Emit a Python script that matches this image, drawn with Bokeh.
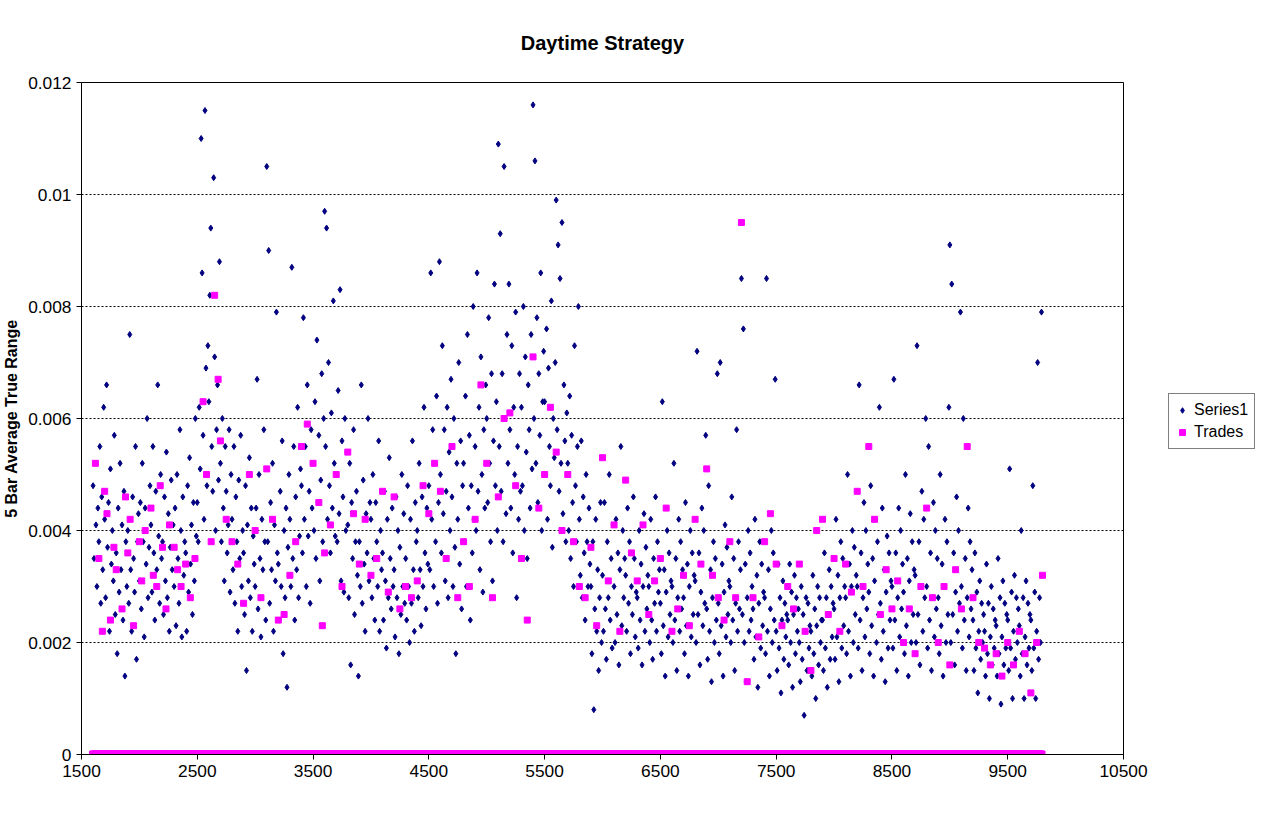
from bokeh.plotting import figure
from bokeh.models import ColumnDataSource, FixedTicker, CustomJSTickFormatter, Legend, LegendItem, Range1d
from bokeh.embed import file_html
from bokeh.resources import INLINE

# Series1 values (units of 1e-4), 12 bars per block of 100, block start keys
block_starts = list(range(1600, 9800, 100))
series1_blocks = [
    [48,35,52,41,30,44,38,55,27,46,33,62],
    [42,28,66,37,45,22,51,34,40,31,57,25],
    [36,18,44,29,52,33,41,24,47,14,38,30],
    [40,27,75,33,22,46,35,29,55,17,38,43],
    [31,45,26,52,38,21,44,34,60,28,37,48],
    [41,29,55,36,24,47,33,66,39,27,50,35],
    [38,25,46,31,54,28,43,22,37,49,33,41],
    [30,44,23,50,35,27,58,40,21,46,32,38],
    [36,22,48,29,53,34,41,25,45,31,60,39],
    [45,38,62,51,110,86,57,42,115,69,48,73],
    [63,82,94,55,47,103,71,40,58,66,49,88],
    [52,38,60,44,31,55,47,36,41,58,29,50],
    [42,33,55,27,46,38,22,49,35,57,30,40],
    [36,25,48,15,41,31,53,28,44,22,39,34],
    [30,44,67,26,50,35,21,42,33,58,38,24],
    [105,38,90,27,45,33,52,22,41,31,79,36],
    [34,24,47,30,56,18,40,28,44,12,37,50],
    [42,30,87,35,55,24,46,33,62,28,39,51],
    [48,36,78,42,55,30,66,39,47,27,58,44],
    [52,40,63,35,74,45,57,31,49,68,38,60],
    [97,55,94,42,70,48,36,61,44,81,52,39],
    [50,38,65,43,83,31,56,46,29,60,40,54],
    [41,28,52,16,45,35,58,25,38,47,32,14],
    [38,30,66,27,49,34,22,43,36,60,31,45],
    [42,28,50,35,24,45,38,30,56,22,40,33],
    [36,24,47,31,19,42,28,53,35,26,44,30],
    [33,21,46,28,40,18,37,25,50,30,43,27],
    [35,24,48,30,20,42,27,56,33,22,45,38],
    [40,28,52,33,23,46,30,62,36,26,44,34],
    [48,33,86,42,58,30,52,38,64,27,45,88],
    [50,36,73,43,58,31,47,62,28,54,40,67],
    [46,30,60,37,18,52,42,70,34,56,26,48],
    [52,38,64,30,75,44,57,24,48,36,80,42],
    [55,40,86,47,62,33,71,50,29,58,44,66],
    [60,45,78,52,38,68,31,56,84,48,63,40],
    [109,55,93,47,68,38,105,60,43,75,52,84],
    [58,44,73,36,62,50,79,28,55,42,68,47],
    [62,48,80,40,71,54,35,66,58,44,75,51],
    [116,60,106,52,78,45,68,57,86,40,63,72],
    [63,50,76,42,69,55,48,81,37,60,53,70],
    [99,58,91,47,85,52,95,43,66,56,38,61],
    [52,40,64,35,57,45,30,73,48,38,55,80],
    [42,32,56,28,46,36,24,50,38,30,44,34],
    [30,18,38,8,26,42,22,33,15,28,45,20],
    [32,22,45,26,17,38,28,50,24,35,19,41],
    [30,20,42,25,36,16,33,55,23,40,28,35],
    [32,22,44,27,38,18,30,25,46,35,21,29],
    [28,19,40,24,34,16,30,43,22,37,26,32],
    [30,20,42,24,17,35,27,46,22,38,29,33],
    [27,18,63,23,33,14,29,40,21,36,25,31],
    [30,20,52,24,35,15,28,42,22,38,26,33],
    [28,18,45,23,34,14,30,40,21,36,25,32],
    [31,20,72,25,36,16,29,44,23,40,27,57],
    [26,17,48,22,33,13,28,38,20,35,24,68],
    [27,18,70,23,34,14,29,41,21,37,25,31],
    [30,20,46,24,35,15,27,58,22,38,26,33],
    [85,25,76,20,34,13,28,40,22,36,24,30],
    [26,17,42,21,32,12,27,38,19,34,23,29],
    [28,18,85,22,33,14,26,40,20,36,24,67],
    [22,15,34,19,28,11,24,31,17,27,21,25],
    [24,16,34,20,29,12,25,32,18,28,22,26],
    [20,13,30,17,25,7,22,28,15,27,19,23],
    [22,14,32,18,26,10,23,30,16,28,20,24],
    [24,15,36,19,28,12,25,33,17,30,21,27],
    [26,17,42,21,32,13,28,38,19,35,23,30],
    [28,18,50,22,34,14,30,40,20,37,25,32],
    [30,19,66,24,36,15,28,45,21,40,26,34],
    [29,18,48,23,35,14,31,42,20,38,25,62],
    [27,17,44,22,33,13,29,39,19,36,24,31],
    [30,19,67,24,36,15,28,44,21,40,26,34],
    [29,18,50,23,35,14,31,43,20,38,25,33],
    [32,20,73,25,38,16,30,47,22,42,28,60],
    [30,19,55,24,36,15,28,45,21,40,26,35],
    [28,18,50,23,34,14,30,42,20,38,25,62],
    [91,20,84,25,36,16,29,46,22,40,27,79],
    [30,19,60,24,35,15,28,44,21,38,26,33],
    [24,15,36,19,29,11,22,31,17,27,20,25],
    [22,14,34,18,27,10,21,30,16,26,19,24],
    [23,14,35,18,28,9,21,31,16,27,19,25],
    [24,15,51,19,29,10,22,32,17,28,20,26],
    [23,14,40,18,28,10,21,31,16,27,19,25],
    [24,15,48,19,29,10,22,70,17,28,20,79],
]

trade_x = [1620,1650,1680,1700,1720,1750,1780,1800,1850,1880,1900,1920,1950,2000,2020,2050,2100,2120,2150,2180,
           2200,2230,2260,2300,2330,2360,2400,2440,2480,2550,2580,2620,2650,2680,2700,2750,2800,2850,2900,2950,
           3000,3050,3100,3150,3200,3250,3300,3350,3400,3450,3500,3550,3580,3600,3650,3700,3750,3800,3850,3900,
           3950,4000,4050,4100,4150,4200,4250,4300,4350,4400,4450,4500,4550,4600,4650,4700,4750,4800,4850,4900,
           4950,5000,5050,5100,5150,5200,5250,5300,5350,5400,5450,5500,5550,5600,5650,5700,5750,5800,5850,5900,
           5950,6000,6050,6100,6150,6200,6250,6300,6350,6400,6450,6500,6550,6600,6650,6700,6750,6800,6850,6900,
           6950,7000,7050,7100,7150,7200,7250,7300,7350,7400,7450,7500,7550,7600,7650,7700,7750,7800,7850,7900,
           7950,8000,8050,8100,8150,8200,8250,8300,8350,8400,8450,8500,8550,8600,8650,8700,8750,8800,8850,8900,
           8950,9000,9050,9100,9150,9200,9250,9300,9350,9400,9450,9500,9550,9600,9650,9700,9750,9800]
trade_y = [52,35,22,47,43,24,37,33,26,46,36,42,23,38,31,40,44,32,30,48,
           37,26,41,37,33,30,34,28,35,63,50,38,82,67,56,42,38,34,27,50,
           40,28,51,42,24,25,32,38,55,59,52,45,23,36,41,50,30,54,43,34,
           42,32,35,47,29,46,26,30,28,31,48,43,52,47,35,55,28,38,30,42,
           66,52,28,46,60,61,48,35,24,71,44,50,62,54,40,50,38,30,28,37,
           23,53,31,41,22,49,36,31,41,25,31,35,44,22,26,32,23,42,34,51,
           32,28,24,38,28,95,13,28,21,38,43,34,23,30,26,34,22,15,40,42,
           25,35,22,34,29,47,30,55,42,25,33,26,31,20,26,18,30,44,28,20,
           30,16,33,26,55,28,20,19,16,18,14,20,16,22,18,11,20,32]

s_x, s_y = [], []
for start, vals in zip(block_starts, series1_blocks):
    for i, v in enumerate(vals):
        s_x.append(start + i * 100 / len(vals))
        s_y.append(v / 10000)

series_src = ColumnDataSource(dict(x=s_x, y=s_y))
zero_src = ColumnDataSource(dict(x=s_x, y=[0] * len(s_x)))
trade_src = ColumnDataSource(dict(x=trade_x, y=[v / 10000 for v in trade_y]))

FONT = "Liberation Sans"
p = figure(frame_width=1042, frame_height=672, output_backend="svg", toolbar_location=None,
           title="Daytime Strategy", x_range=Range1d(1500, 10500), y_range=Range1d(0, 0.012),
           min_border_left=18, min_border_top=4, min_border_right=0)
p.title.align = "center"
p.title.text_font = FONT
p.title.text_font_size = "15pt"
p.title.text_color = "black"
p.title.standoff = 58
p.outline_line_color = "black"
p.background_fill_color = "white"

navy = "#000080"
magenta = "#FF00FF"
r1 = p.scatter("x", "y", source=series_src, marker="diamond", size=6, color=navy)
r0 = p.scatter("x", "y", source=zero_src, marker="square", size=7, color=magenta)
r2 = p.scatter("x", "y", source=trade_src, marker="square", size=6, color=magenta)

p.xaxis.ticker = FixedTicker(ticks=list(range(1500, 10501, 1000)))
p.yaxis.ticker = FixedTicker(ticks=[0, 0.002, 0.004, 0.006, 0.008, 0.01, 0.012])
p.yaxis.formatter = CustomJSTickFormatter(code="return Number(tick.toFixed(4)).toString();")
p.xgrid.grid_line_color = None
p.ygrid.grid_line_color = "black"
p.ygrid.grid_line_dash = "2 2"
for ax in (p.xaxis, p.yaxis):
    ax.major_label_text_font = FONT
    ax.major_label_text_font_size = "13pt"
    ax.major_label_text_color = "black"
    ax.axis_line_color = "black"
    ax.major_tick_line_color = "black"
    ax.minor_tick_line_color = None
    ax.major_tick_out = 5
    ax.major_tick_in = 0
p.yaxis.axis_label = "5 Bar Average True Range"
p.yaxis.axis_label_text_font = FONT
p.yaxis.axis_label_text_font_style = "bold"
p.yaxis.axis_label_text_font_size = "12pt"
p.yaxis.axis_label_text_color = "black"

legend = Legend(items=[LegendItem(label="Series1", renderers=[r1]),
                       LegendItem(label="Trades", renderers=[r2, r0])],
                location=(45, 305), border_line_color="black", label_text_font=FONT,
                label_text_font_size="12pt", glyph_width=14, spacing=2, margin=0, padding=6,
                label_text_color="black")
p.add_layout(legend, "right")

open("out.html", "w").write(file_html(p, INLINE))
